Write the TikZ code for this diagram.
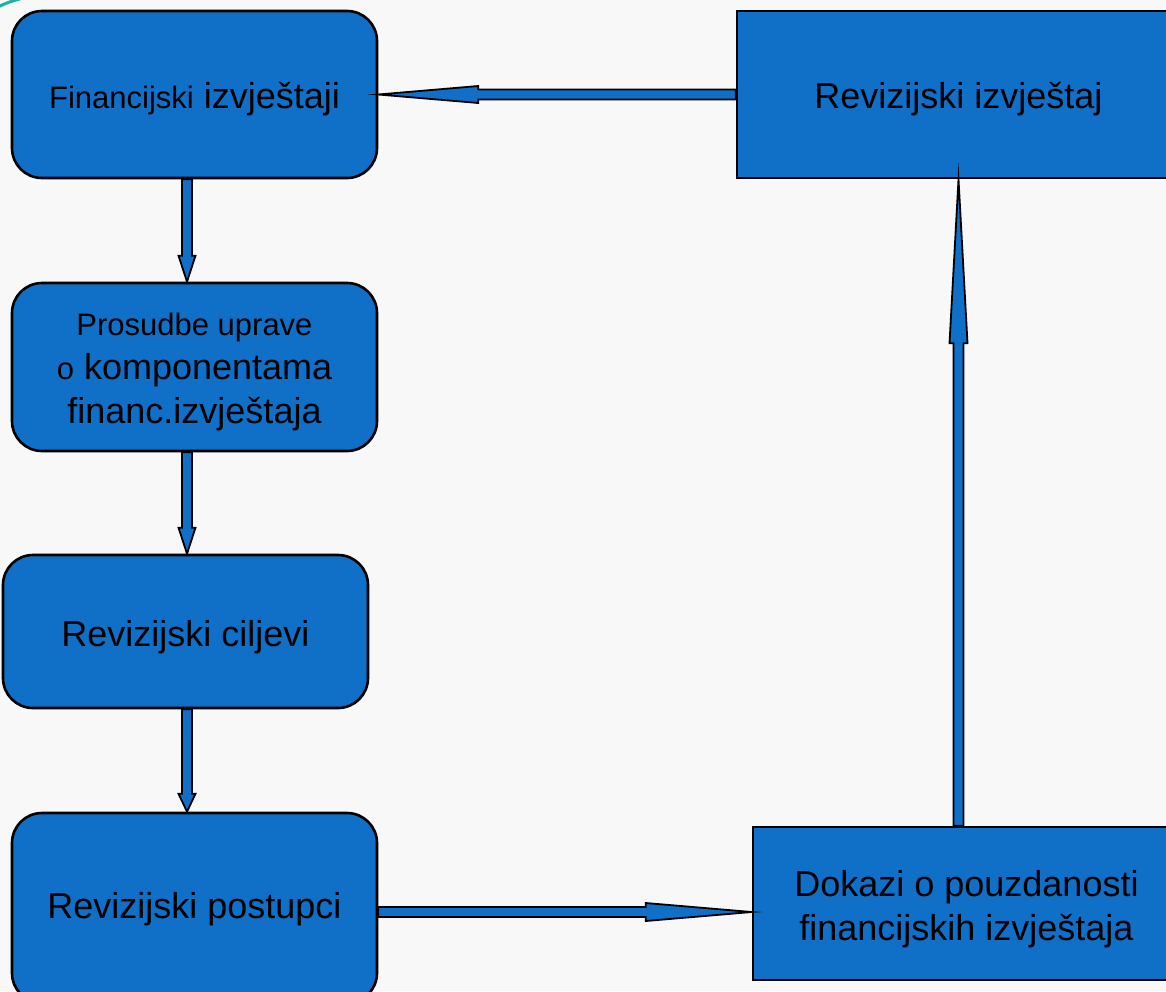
\documentclass[tikz,border=0pt]{standalone}
\usepackage{fontspec}
\setmainfont{Liberation Sans}
\usetikzlibrary{calc}
\definecolor{boxblue}{RGB}{16,111,198}
\definecolor{bggray}{RGB}{248,248,248}
\definecolor{tealc}{RGB}{30,176,168}
\newcommand\smtxt{\fontsize{31}{44}\selectfont}
\newcommand\dn[2]{\raisebox{-#1}[\height][\depth]{\begin{tabular}{@{}c@{}}#2\end{tabular}}}
\tikzset{
  box/.style={draw=black, line width=2.6pt, fill=boxblue, inner sep=0pt,
    font=\fontsize{36}{44}\selectfont},
  rbox/.style={box, rounded corners=30pt},
  barrow/.style={fill=boxblue, draw=black, line width=1.8pt, line join=miter, miter limit=20}
}
\begin{document}
\begin{tikzpicture}[x=1pt,y=-1pt]
\useasboundingbox (0,0) rectangle (1166,991);
\fill[bggray] (0,0) rectangle (1166,991);
\clip (0,0) rectangle (1166,991);
\draw[tealc, line width=3pt] (-2,7) .. controls (6,3) and (14,0) .. (24,-2);
% boxes
\node[rbox, minimum width=365pt, minimum height=167pt] (fin) at (194.5,94.5) {\dn{5pt}{{\smtxt Financijski} izvještaji}};
\node[rbox, minimum width=365pt, minimum height=168pt] (pro) at (194.5,367) {\dn{4pt}{{\smtxt Prosudbe uprave}\\{\smtxt o} komponentama\\financ.izvještaja}};
\node[rbox, minimum width=365pt, minimum height=153pt] (cil) at (185.5,631.5) {\dn{6pt}{Revizijski ciljevi}};
\node[rbox, minimum width=365pt, minimum height=190pt] (pos) at (194.5,908) {\dn{2pt}{Revizijski postupci}};
\node[box, minimum width=443pt, minimum height=167pt] (rep) at (958.5,94.5) {\dn{5pt}{Revizijski izvještaj}};
\node[box, minimum width=427pt, minimum height=153pt] (dok) at (966.5,903.5) {\dn{6pt}{Dokazi o pouzdanosti\\financijskih izvještaja}};
% block arrows
\draw[barrow] let \p1=(rep.west), \p2=(fin.east) in
  (\x1,\y1+5pt) -- (\x2+100pt,\y1+5pt) -- (\x2+100pt,\y1+8.5pt) -- (\x2,\y1)
  -- (\x2+100pt,\y1-8.5pt) -- (\x2+100pt,\y1-5pt) -- (\x1,\y1-5pt) -- cycle;
\draw[barrow] let \p1=($(fin.south)+(-7.5,0)$), \p2=(pro.north) in
  (\x1-5pt,\y1) -- (\x1-5pt,\y2+26pt) -- (\x1-8.5pt,\y2+26pt) -- (\x1,\y2)
  -- (\x1+8.5pt,\y2+26pt) -- (\x1+5pt,\y2+26pt) -- (\x1+5pt,\y1) -- cycle;
\draw[barrow] let \p1=($(pro.south)+(-7.5,0)$), \p2=(cil.north) in
  (\x1-5pt,\y1) -- (\x1-5pt,\y2+26pt) -- (\x1-8.5pt,\y2+26pt) -- (\x1,\y2)
  -- (\x1+8.5pt,\y2+26pt) -- (\x1+5pt,\y2+26pt) -- (\x1+5pt,\y1) -- cycle;
\draw[barrow] let \p1=($(cil.south)+(1.5,0)$), \p2=(pos.north) in
  (\x1-5pt,\y1) -- (\x1-5pt,\y2+18pt) -- (\x1-8.5pt,\y2+18pt) -- (\x1,\y2)
  -- (\x1+8.5pt,\y2+18pt) -- (\x1+5pt,\y2+18pt) -- (\x1+5pt,\y1) -- cycle;
\draw[barrow] let \p1=(pos.east), \p2=(dok.west) in
  (\x1,\y1-4pt+5pt) -- (\x2-106pt,\y1-4pt+5pt) -- (\x2-106pt,\y1-4pt+9pt) -- (\x2,\y1-4pt)
  -- (\x2-106pt,\y1-4pt-9pt) -- (\x2-106pt,\y1-4pt-5pt) -- (\x1,\y1-4pt-5pt) -- cycle;
\draw[barrow] let \p1=(rep.south |- dok.north), \p2=(rep.south) in
  (\x1-5pt,\y1) -- (\x1-5pt,\y2-164pt) -- (\x1-9pt,\y2-164pt) -- (\x1,\y2)
  -- (\x1+9pt,\y2-164pt) -- (\x1+5pt,\y2-164pt) -- (\x1+5pt,\y1) -- cycle;
\end{tikzpicture}
\end{document}
